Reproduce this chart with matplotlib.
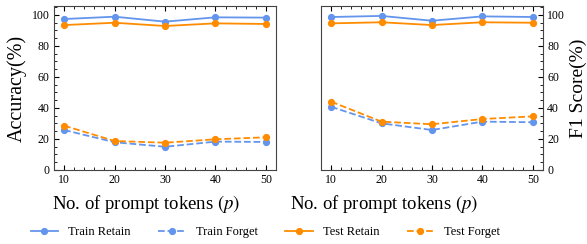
import numpy as np
import matplotlib
matplotlib.use("Agg")
import matplotlib.pyplot as plt

plt.rcParams['font.family'] = ['Liberation Serif', 'DejaVu Serif']
plt.rcParams['mathtext.fontset'] = 'stix'

tokens = [10, 20, 30, 40, 50]

# accuracy panel
acc_train_retain = [97.4, 98.9, 95.7, 98.5, 98.3]
acc_train_forget = [25.8, 17.9, 15.0, 18.3, 18.1]
acc_test_retain = [93.5, 95.0, 92.9, 94.6, 94.2]
acc_test_forget = [28.6, 18.7, 17.6, 19.8, 21.1]

# f1 panel
f1_train_retain = [98.7, 99.4, 96.3, 99.1, 98.7]
f1_train_forget = [40.8, 30.1, 25.8, 31.2, 30.8]
f1_test_retain = [94.6, 95.3, 93.5, 95.3, 95.0]
f1_test_forget = [44.1, 31.2, 29.5, 32.9, 34.6]

blue = '#6495ED'
orange = '#FF8C00'

fig = plt.figure(figsize=(5.87, 2.44), dpi=100)
ax1 = fig.add_axes([54/587, 1 - 170/244, 222/587, 164/244])
ax2 = fig.add_axes([321/587, 1 - 170/244, 222/587, 164/244])

def draw(ax, tr, tf, er, ef, xlab_pos):
    kw = dict(marker='o', markersize=4.2, linewidth=1.3)
    ax.plot(tokens, tr, color=blue, linestyle='-', label='Train Retain', **kw)
    ax.plot(tokens, tf, color=blue, linestyle='--', label='Train Forget', **kw)
    ax.plot(tokens, er, color=orange, linestyle='-', label='Test Retain', **kw)
    ax.plot(tokens, ef, color=orange, linestyle='--', label='Test Forget', **kw)
    ax.set_xlim(8, 52)
    ax.set_ylim(0, 105.8)
    ax.set_xticks(tokens)
    ax.set_yticks([0, 20, 40, 60, 80, 100])
    ax.set_xticks(np.arange(8, 53, 2), minor=True)
    ax.set_yticks(np.arange(0, 106, 5), minor=True)
    ax.tick_params(which='both', direction='in', labelsize=8.5, pad=3)
    ax.tick_params(which='major', length=3.5)
    ax.tick_params(which='minor', length=2)
    ax.set_xlabel('No. of prompt tokens $(p)$', fontsize=13.5, labelpad=5)
    ax.xaxis.set_label_coords(xlab_pos, -0.14)
    ax.xaxis.label.set_verticalalignment('top')
    for s in ax.spines.values():
        s.set_color('#444444')
        s.set_linewidth(0.8)

draw(ax1, acc_train_retain, acc_train_forget, acc_test_retain, acc_test_forget, 0.414)
draw(ax2, f1_train_retain, f1_train_forget, f1_test_retain, f1_test_forget, 0.284)

ax1.tick_params(which='both', top=True, right=False, left=True)
ax1.set_ylabel('Accuracy(%)', fontsize=14.5, labelpad=4)

ax2.yaxis.tick_right()
ax2.yaxis.set_label_position('right')
ax2.tick_params(which='both', top=True, left=False, right=True)
ax2.set_ylabel('F1 Score(%)', fontsize=14, labelpad=3)

handles, labels = ax1.get_legend_handles_labels()
fig.legend(handles, labels, loc='center', bbox_to_anchor=(0.452, 1 - 232/244),
           ncol=4, frameon=False, fontsize=9, handlelength=2.2,
           handletextpad=0.8, columnspacing=2.2)

fig.savefig('out.png', dpi=100)
